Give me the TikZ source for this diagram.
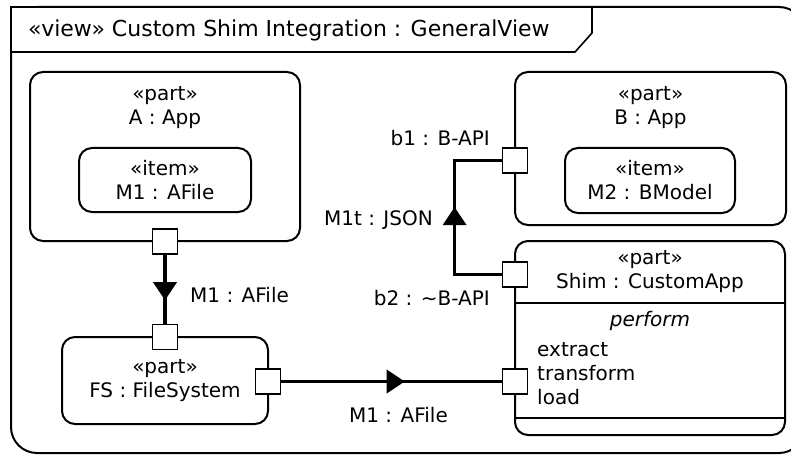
\documentclass[tikz,border=0pt]{standalone}
\usepackage{fontspec}
\setmainfont{DejaVu Sans}
\usetikzlibrary{positioning,arrows.meta,decorations.markings}

\tikzset{
  part/.style={draw=black, line width=2pt, rounded corners=13pt, inner sep=0pt, align=center},
  port/.style={draw=black, fill=white, line width=1.8pt, minimum size=25pt, inner sep=0pt},
  flow/.style={line width=3.5pt, postaction={decorate},
    decoration={markings, mark=at position #1 with {\arrow{Triangle[width=23pt,length=18pt]}}}},
  lbl/.style={inner sep=0pt, align=center},
}

\begin{document}
\fontsize{20}{24}\selectfont
\begin{tikzpicture}[x=1pt,y=-1pt]
			\useasboundingbox (0,0) rectangle (791,457);
			
			% frame
			\draw[line width=2pt, rounded corners=26pt] (11,7) rectangle (805,453);
			\draw[line width=1.6pt, fill=white] (11,7) -- (592,7) -- (592,33) -- (575,52) -- (11,52) -- cycle;
			\node[lbl, anchor=west, font=\fontsize{22}{26}\selectfont] (title) at (28,30) {«view» Custom Shim Integration : GeneralView};
			
			\node[part, minimum width=270pt, minimum height=169pt] (A) at (165,156.5) {};
			\node[lbl] (Aname) at (165,108) {«part»\\A : App};
			\node[part, minimum width=172pt, minimum height=64pt] (M1) at (165,180) {«item»\\M1 : AFile};
			
			\node[part, minimum width=206pt, minimum height=87pt] (FS) at (165,380.5) {«part»\\FS : FileSystem};
			
			\node[part, minimum width=271pt, minimum height=153pt] (B) at (650.5,148.5) {};
			\node[lbl] (Bname) at (650.5,108) {«part»\\B : App};
			\node[part, minimum width=170pt, minimum height=65pt] (M2) at (650,180.5) {«item»\\M2 : BModel};
			
			\node[part, minimum width=270pt, minimum height=194pt] (Shim) at (650,338) {};
			\node[lbl] (Shimname) at (650,272) {«part»\\Shim : CustomApp};
			\draw[line width=2pt] (Shim.west |- 0,303) -- (Shim.east |- 0,303);
			\draw[line width=2pt] (Shim.west |- 0,418) -- (Shim.east |- 0,418);
			\node[lbl, font=\itshape] (perf) at (650,321) {perform};
			\node[lbl, anchor=west, align=left] (acts) at (537,374) {extract\\transform\\load};
			
			\node[port] (a1) at (165,241.5) {};
			\node[port] (fs1) at (165,337) {};
			\node[port] (fs2) at (268,381.5) {};
			\node[port] (b1) at (515,160.5) {};
			\node[port] (b2) at (515,274.5) {};
			\node[port] (sh1) at (515,381.5) {};
			
			\draw[flow=0.66] (a1.south) -- (fs1.north);
			\draw[flow=0.56] (fs2.east) -- (sh1.west);
			\draw[flow=0.55] (b2.west) -- ++(-47,0) |- (b1.west);
			
			\node[lbl, anchor=west] (l1) at (190,295) {M1 : AFile};
			\node[lbl] (l2) at (398.5,415) {M1 : AFile};
			\node[lbl, anchor=east] (l3) at (490,138) {b1 : B-API};
			\node[lbl, anchor=east] (l4) at (433,220) {M1t : JSON};
			\node[lbl, anchor=east] (l5) at (490,298) {b2 : \textasciitilde B-API};
			
\end{tikzpicture}
\end{document}
